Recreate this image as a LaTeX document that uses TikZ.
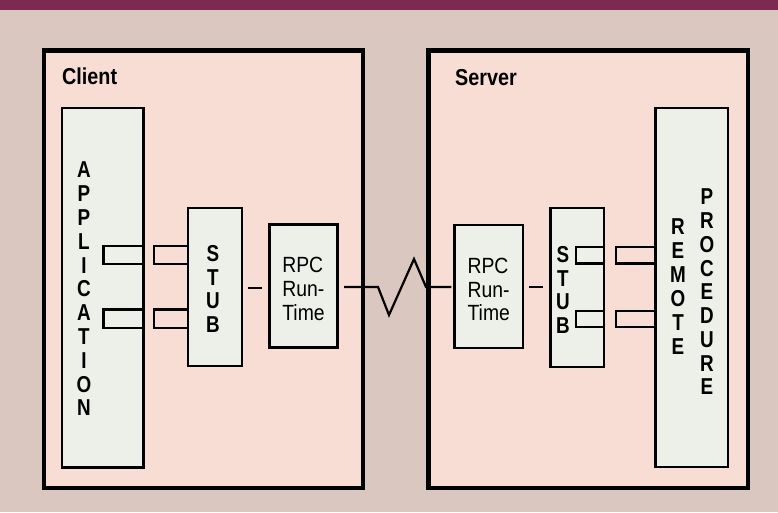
\documentclass[tikz,border=0pt]{standalone}
\usepackage{fontspec}
\setmainfont{Liberation Sans}
\newfontfamily\condfont[FakeStretch=0.82]{Liberation Sans}
\newfontfamily\condtitle[FakeStretch=0.86]{Liberation Sans}
\newfontfamily\condreg[FakeStretch=0.88]{Liberation Sans}
\definecolor{bgc}{HTML}{DAC7C0}
\definecolor{bandc}{HTML}{7B2B52}
\definecolor{outerc}{HTML}{F7DDD4}
\definecolor{innerc}{HTML}{EDF0E9}
\tikzset{
  outerbox/.style={draw=black, line width=4.5pt, fill=outerc, inner sep=0pt},
  innerbox/.style={draw=black, line width=2.4pt, fill=innerc, inner sep=0pt},
  socket/.style={draw=black, line width=2.4pt},
  link/.style={draw=black, line width=2.2pt},
  bigletters/.style={align=center, inner sep=0pt, font={\condfont\bfseries\fontsize{23}{23.8}\selectfont}},
  title/.style={inner sep=0pt, anchor=base west, font={\condtitle\bfseries\fontsize{23}{26}\selectfont}},
  rpctext/.style={align=left, inner sep=0pt, font={\condreg\fontsize{22}{23.6}\selectfont}}
}
\begin{document}
\begin{tikzpicture}[x=1pt, y=-1pt]
\useasboundingbox (0,0) rectangle (778,512);
\fill[bgc] (0,0) rectangle (778,512);
\fill[bandc] (0,0) rectangle (778,10);

% outer boxes
\node[outerbox, minimum width=319pt, minimum height=437.5pt] (client) at (203.5,269.25) {};
\node[outerbox, minimum width=319.5pt, minimum height=437.5pt] (server) at (588.25,269.25) {};
\node[title] (clientlbl) at (62,84) {Client};
\node[title] (serverlbl) at (455,85) {Server};

% client inner boxes
\node[innerbox, minimum width=81.5pt, minimum height=359.5pt] (app) at (102.75,287.75) {};
\node[innerbox, minimum width=54pt, minimum height=158pt] (cstub) at (215,287) {};
\node[innerbox, minimum width=68pt, minimum height=123pt] (crpc) at (303.5,286) {};

% server inner boxes
\node[innerbox, minimum width=68.5pt, minimum height=123pt] (srpc) at (488.75,286.5) {};
\node[innerbox, minimum width=53.5pt, minimum height=159pt] (sstub) at (577.25,287.5) {};
\node[innerbox, minimum width=72.5pt, minimum height=359pt] (remote) at (691.75,287.5) {};

% sockets (client)
\draw[socket] (app.east |- 0,246) -- (103.5,246) -- (103.5,264) -- (app.east |- 0,264);
\draw[socket] (app.east |- 0,309.5) -- (103.5,309.5) -- (103.5,328) -- (app.east |- 0,328);
\draw[socket] (cstub.west |- 0,246) -- (154,246) -- (154,264) -- (cstub.west |- 0,264);
\draw[socket] (cstub.west |- 0,309.5) -- (154,309.5) -- (154,328) -- (cstub.west |- 0,328);

% sockets (server)
\draw[socket] (sstub.east |- 0,247) -- (576,247) -- (576,263.5) -- (sstub.east |- 0,263.5);
\draw[socket] (sstub.east |- 0,311) -- (576,311) -- (576,327) -- (sstub.east |- 0,327);
\draw[socket] (remote.west |- 0,247) -- (616,247) -- (616,263.5) -- (remote.west |- 0,263.5);
\draw[socket] (remote.west |- 0,311) -- (616,311) -- (616,327) -- (remote.west |- 0,327);

% texts
\node[bigletters] (applbl) at (84,289) {A\\P\\P\\L\\I\\C\\A\\T\\I\\O\\N};
\node[bigletters] (cstublbl) at (213,289) {S\\T\\U\\B};
\node[bigletters] (sstublbl) at (563,290) {S\\T\\U\\B};
\node[bigletters, font={\condfont\bfseries\fontsize{23}{24}\selectfont}] (remlbl) at (678,287) {R\\E\\M\\O\\T\\E};
\node[bigletters, font={\condfont\bfseries\fontsize{23}{23.75}\selectfont}] (proclbl) at (707,292) {P\\R\\O\\C\\E\\D\\U\\R\\E};
\node[rpctext] (crpclbl) at ([yshift=-3pt]crpc.center) {RPC\\Run-\\Time};
\node[rpctext] (srpclbl) at ([yshift=-3pt]srpc.center) {RPC\\Run-\\Time};

% connectors
\coordinate (z1) at (378,287);
\coordinate (z2) at (389,315);
\coordinate (z3) at (414,259);
\coordinate (z4) at (426,287);
\draw[link] ([xshift=5pt]cstub.east |- 0,288) -- ([xshift=-6pt]crpc.west |- 0,288);
\draw[link] ([xshift=5.5pt]crpc.east |- 0,287) -- (z1) -- (z2) -- (z3) -- (z4) -- ([xshift=-2pt]srpc.west |- 0,287);
\draw[link] ([xshift=5pt]srpc.east |- 0,287) -- ([xshift=-6pt]sstub.west |- 0,287);
\end{tikzpicture}
\end{document}
